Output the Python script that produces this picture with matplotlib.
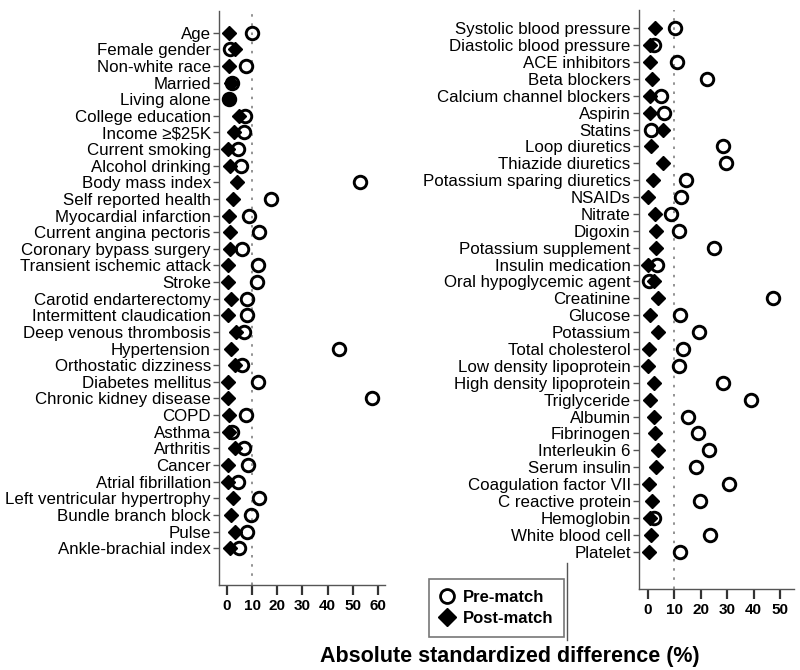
import matplotlib
matplotlib.use("Agg")
import matplotlib.pyplot as plt
from matplotlib.lines import Line2D
import numpy as np

plt.rcParams['font.family'] = ['Liberation Sans', 'DejaVu Sans']

# left panel: demographics, history, exam
left_labels = ["Age", "Female gender", "Non-white race", "Married", "Living alone",
               "College education", "Income \u2265$25K", "Current smoking",
               "Alcohol drinking", "Body mass index", "Self reported health",
               "Myocardial infarction", "Current angina pectoris",
               "Coronary bypass surgery", "Transient ischemic attack", "Stroke",
               "Carotid endarterectomy", "Intermittent claudication",
               "Deep venous thrombosis", "Hypertension", "Orthostatic dizziness",
               "Diabetes mellitus", "Chronic kidney disease", "COPD", "Asthma",
               "Arthritis", "Cancer", "Atrial fibrillation",
               "Left ventricular hypertrophy", "Bundle branch block", "Pulse",
               "Ankle-brachial index"]
left_pre = [9.8, 1.2, 7.4, 1.9, 0.9, 7.2, 6.6, 4.3, 5.4, 53.0, 17.4,
            8.9, 12.9, 6.1, 12.5, 11.8, 8.1, 7.8, 6.8, 44.4, 6.1,
            12.5, 57.6, 7.4, 1.9, 6.9, 8.5, 4.3, 12.7, 9.6, 8.1, 4.9]
left_post = [0.9, 3.3, 0.7, 1.5, 0.9, 4.9, 2.9, 0.3, 1.2, 3.9, 2.5,
             0.9, 1.2, 1.2, 0.3, 0.2, 1.5, 0.5, 3.5, 1.5, 3.2,
             0.5, 0.3, 0.8, 0.9, 3.2, 0.4, 0.5, 2.5, 1.5, 3.3, 1.2]

# right panel: medications, labs
right_labels = ["Systolic blood pressure", "Diastolic blood pressure",
                "ACE inhibitors", "Beta blockers", "Calcium channel blockers",
                "Aspirin", "Statins", "Loop diuretics", "Thiazide diuretics",
                "Potassium sparing diuretics", "NSAIDs", "Nitrate", "Digoxin",
                "Potassium supplement", "Insulin medication",
                "Oral hypoglycemic agent", "Creatinine", "Glucose", "Potassium",
                "Total cholesterol", "Low density lipoprotein",
                "High density lipoprotein", "Triglyceride", "Albumin",
                "Fibrinogen", "Interleukin 6", "Serum insulin",
                "Coagulation factor VII", "C reactive protein", "Hemoglobin",
                "White blood cell", "Platelet"]
right_pre = [10.4, 2.2, 11.0, 22.3, 5.1, 6.0, 1.2, 28.4, 29.5, 14.4, 12.6,
             8.9, 12.0, 25.2, 3.5, 0.3, 47.5, 12.3, 19.4, 13.5, 11.9, 28.6,
             39.1, 15.4, 18.9, 23.3, 18.2, 30.9, 19.6, 2.2, 23.6, 12.3]
right_post = [2.6, 1.0, 0.8, 1.8, 0.9, 0.7, 5.7, 1.2, 5.6, 2.0, 0.0,
              2.8, 3.2, 3.2, 0.0, 2.5, 3.8, 0.9, 3.8, 0.3, 0.0, 2.2,
              0.9, 2.5, 2.8, 3.7, 3.2, 0.4, 1.8, 0.9, 1.2, 0.3]

left_ticks = [0, 10, 20, 30, 40, 50, 60]
right_ticks = [0, 10, 20, 30, 40, 50]

fig = plt.figure(figsize=(8, 6.7), dpi=100)
ax1 = fig.add_axes([0.274, 0.127, 0.2075, 0.8567])
ax2 = fig.add_axes([0.79875, 0.121, 0.19375, 0.8642])


def panel(ax, labels, pre, post, ticks, xlim, ylim):
    y = np.arange(len(labels))
    ax.axvline(10, color="gray", linestyle=(0, (1.5, 4)), linewidth=1.2, zorder=1)
    ax.plot(pre, y, linestyle="none", marker="o", markersize=9,
            markerfacecolor="none", markeredgecolor="black",
            markeredgewidth=2.1, zorder=3)
    ax.plot(post, y, linestyle="none", marker="D", markersize=7,
            color="black", zorder=2)
    ax.set_yticks(y)
    ax.set_yticklabels(labels, fontsize=12.2)
    ax.set_xticks(ticks)
    ax.set_xticklabels([str(t) for t in ticks], fontsize=11, fontweight="bold")
    ax.set_xlim(*xlim)
    ax.set_ylim(*ylim)
    for s in ["top", "right"]:
        ax.spines[s].set_visible(False)
    for s in ["left", "bottom"]:
        ax.spines[s].set_color("#555555")
        ax.spines[s].set_linewidth(1.0)
    ax.tick_params(axis="y", length=4, width=1, pad=2, color="#555555")
    ax.tick_params(axis="x", length=7, width=1.6, pad=3, color="#333333")


panel(ax1, left_labels, left_pre, left_post, left_ticks, (-3.1, 62.9), (33.21, -1.305))
panel(ax2, right_labels, right_pre, right_post, right_ticks, (-3.3, 55.3), (33.21, -1.084))

handles = [Line2D([], [], linestyle="none", marker="o", markersize=10,
                  markerfacecolor="none", markeredgecolor="black", markeredgewidth=2),
           Line2D([], [], linestyle="none", marker="D", markersize=9, color="black")]
leg = fig.legend(handles, ["Pre-match", "Post-match"], loc="center",
                 bbox_to_anchor=(0.621, 0.0925), frameon=True, fancybox=False,
                 prop={"size": 12, "weight": "bold"}, handletextpad=0.55,
                 borderpad=0.65, labelspacing=0.35, handlelength=0.8,
                 borderaxespad=0.0)
leg.get_frame().set_edgecolor("#555555")
leg.get_frame().set_linewidth(1.2)

fig.add_artist(Line2D([0.7085, 0.7085], [0.045, 0.16], color="#555555", linewidth=1))

fig.text(0.6375, 0.02, "Absolute standardized difference (%)", ha="center",
         va="center", fontsize=15.5, fontweight="bold")

fig.savefig("out.png", dpi=100)
